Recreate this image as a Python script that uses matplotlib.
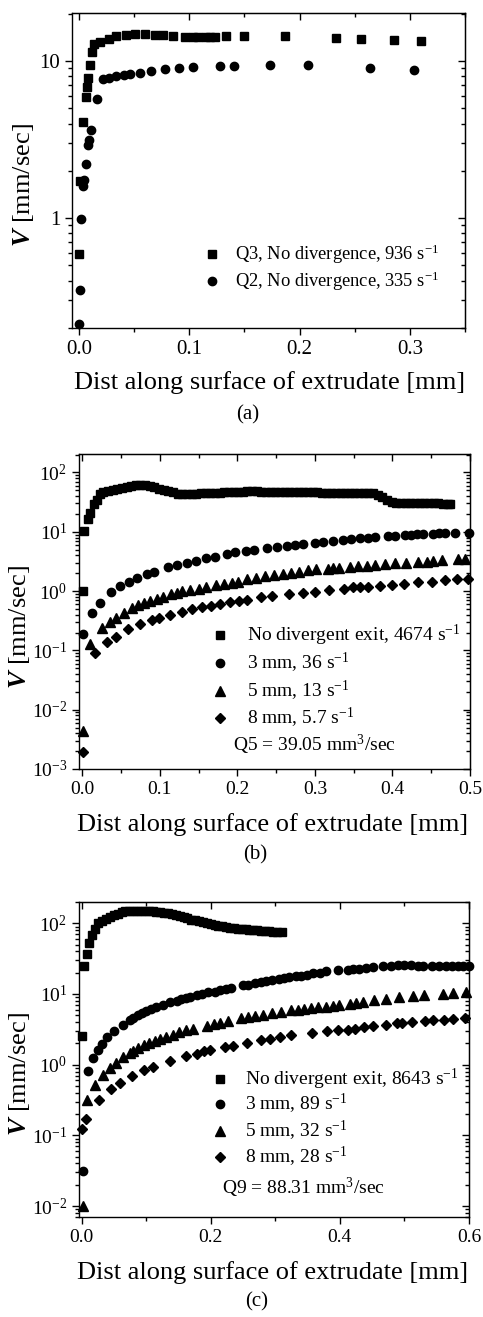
import matplotlib

matplotlib.use("Agg")
import matplotlib.pyplot as plt
from matplotlib.ticker import (FixedLocator, FormatStrFormatter, LogLocator,
                               MultipleLocator, NullFormatter)

plt.rcParams["font.family"] = ["Liberation Serif", "DejaVu Serif"]
plt.rcParams["mathtext.fontset"] = "custom"
plt.rcParams["mathtext.rm"] = "Liberation Serif"
plt.rcParams["mathtext.it"] = "Liberation Serif:italic"
plt.rcParams["mathtext.bf"] = "Liberation Serif:italic:bold"

# ---- (a) no divergence, Q3 and Q2 ----
a_q3_x = [0.0003, 0.001, 0.004, 0.006, 0.007, 0.008, 0.010, 0.012, 0.014, 0.019,
          0.027, 0.034, 0.043, 0.051, 0.060, 0.069, 0.076, 0.085, 0.096, 0.1035,
          0.1075, 0.115, 0.119, 0.123, 0.133, 0.150, 0.187, 0.233, 0.256, 0.286, 0.310]
a_q3_v = [0.59, 1.73, 4.07, 5.93, 6.8, 7.8, 9.45, 11.4, 12.9, 13.3,
          13.9, 14.4, 14.6, 14.8, 14.9, 14.7, 14.6, 14.4, 14.2, 14.2,
          14.2, 14.2, 14.3, 14.3, 14.4, 14.5, 14.5, 14.1, 13.9, 13.7, 13.5]
a_q2_x = [0.0003, 0.001, 0.0015, 0.0035, 0.0045, 0.006, 0.008, 0.009, 0.011, 0.016,
          0.022, 0.0275, 0.034, 0.041, 0.046, 0.055, 0.065, 0.078, 0.091, 0.103,
          0.128, 0.141, 0.173, 0.208, 0.264, 0.304]
a_q2_v = [0.213, 0.35, 0.99, 1.61, 1.75, 2.2, 2.9, 3.15, 3.64, 5.73,
          7.69, 7.8, 8.03, 8.15, 8.27, 8.43, 8.64, 8.85, 9.02, 9.2,
          9.3, 9.34, 9.38, 9.43, 9.07, 8.77]

# ---- (b) Q5 = 39.05 mm^3/sec ----
b_none_x = [0.0013, 0.0026, 0.007, 0.010, 0.015, 0.0186, 0.023,
            0.027, 0.033, 0.039, 0.045, 0.051, 0.057, 0.063, 0.069, 0.075, 0.081,
            0.087, 0.093, 0.099, 0.105, 0.111, 0.117, 0.123, 0.129, 0.135, 0.141,
            0.147, 0.153, 0.159, 0.165, 0.171, 0.177, 0.183, 0.189, 0.195, 0.201,
            0.207, 0.213, 0.219, 0.225, 0.231, 0.237, 0.243, 0.249, 0.255, 0.261,
            0.267, 0.273, 0.279, 0.285, 0.291, 0.297, 0.303, 0.309, 0.315, 0.321,
            0.327, 0.333, 0.339, 0.345, 0.351, 0.357, 0.363, 0.369, 0.375, 0.381,
            0.387, 0.393, 0.399, 0.405, 0.411, 0.417, 0.423, 0.429, 0.435, 0.441,
            0.447, 0.453, 0.459, 0.465, 0.471, 0.474]
b_none_v = [1.0, 10.3, 16.2, 20.9, 28.9, 34.2, 43.0,
            47.0, 49.0, 51.0, 52.5, 54.5, 56.5, 58.5, 60.5, 61.5, 60.5,
            58.5, 56.0, 53.5, 51.0, 48.5, 46.0, 44.0, 43.0, 43.3, 43.6,
            44.0, 44.3, 44.6, 45.0, 45.3, 45.6, 46.0, 46.4, 46.8, 47.2,
            47.6, 48.0, 47.9, 47.8, 47.7, 47.6, 47.4, 47.3, 47.2, 47.0,
            46.9, 46.8, 46.6, 46.5, 46.3, 46.2, 46.0, 45.9, 45.7, 45.6,
            45.4, 45.3, 45.1, 45.0, 44.8, 44.7, 44.6, 44.5, 44.5, 41.5,
            38.0, 34.5, 32.0, 30.8, 30.7, 30.6, 30.5, 30.4, 30.4, 30.3,
            30.2, 30.1, 30.0, 29.9, 29.8, 29.8]
b_3mm_x = [0.0013, 0.012, 0.023, 0.0365, 0.049, 0.060, 0.070, 0.083, 0.092, 0.111,
           0.1225, 0.1345, 0.147, 0.160, 0.171, 0.186, 0.197, 0.211, 0.222, 0.238,
           0.251, 0.2635, 0.274, 0.285, 0.300, 0.311, 0.323, 0.3366, 0.347, 0.358,
           0.369, 0.378, 0.394, 0.403, 0.416, 0.4235, 0.432, 0.439, 0.452, 0.460,
           0.468, 0.481, 0.499]
b_3mm_v = [0.187, 0.42, 0.64, 0.95, 1.23, 1.4, 1.68, 1.93, 2.12, 2.54,
           2.74, 3.0, 3.28, 3.55, 3.83, 4.2, 4.48, 4.71, 4.97, 5.23,
           5.5, 5.87, 6.03, 6.27, 6.51, 6.77, 7.03, 7.31, 7.6, 7.8,
           7.9, 8.2, 8.5, 8.65, 8.87, 8.95, 9.1, 9.2, 9.35, 9.45,
           9.5, 9.6, 9.65]
b_5mm_x = [0.0013, 0.010, 0.025, 0.0357, 0.043, 0.054, 0.064, 0.072, 0.079, 0.087,
           0.096, 0.1045, 0.114, 0.1217, 0.129, 0.139, 0.150, 0.1595, 0.173, 0.183,
           0.1926, 0.201, 0.213, 0.224, 0.2356, 0.247, 0.259, 0.2687, 0.2795, 0.2915,
           0.301, 0.317, 0.3237, 0.3315, 0.345, 0.356, 0.3667, 0.3775, 0.390, 0.403,
           0.418, 0.433, 0.444, 0.4527, 0.4634, 0.485, 0.4935]
b_5mm_v = [0.0044, 0.128, 0.235, 0.297, 0.356, 0.43, 0.51, 0.574, 0.62, 0.687,
           0.743, 0.80, 0.88, 0.94, 0.99, 1.04, 1.09, 1.17, 1.25, 1.31,
           1.38, 1.45, 1.57, 1.68, 1.77, 1.86, 1.96, 2.04, 2.09, 2.26,
           2.35, 2.38, 2.44, 2.47, 2.57, 2.64, 2.67, 2.74, 2.81, 2.92,
           3.0, 3.08, 3.1, 3.2, 3.33, 3.41, 3.46]
b_8mm_x = [0.0013, 0.0163, 0.032, 0.043, 0.059, 0.0744, 0.0894, 0.099, 0.113, 0.129,
           0.142, 0.154, 0.1655, 0.1776, 0.191, 0.2025, 0.2128, 0.231, 0.244, 0.266,
           0.285, 0.300, 0.3186, 0.3375, 0.3495, 0.358, 0.369, 0.384, 0.400, 0.415,
           0.433, 0.4505, 0.4677, 0.4828, 0.497]
b_8mm_v = [0.00192, 0.089, 0.137, 0.166, 0.229, 0.275, 0.325, 0.347, 0.394, 0.449,
           0.498, 0.531, 0.566, 0.604, 0.644, 0.688, 0.715, 0.782, 0.824, 0.879,
           0.925, 0.975, 1.03, 1.09, 1.15, 1.17, 1.18, 1.23, 1.29, 1.33,
           1.40, 1.45, 1.53, 1.57, 1.63]

# ---- (c) Q9 = 88.31 mm^3/sec ----
c_none_x = [0.001, 0.0036, 0.0077, 0.0118, 0.0165, 0.0206,
            0.026, 0.032, 0.038, 0.044, 0.050, 0.056, 0.062, 0.068, 0.074, 0.080,
            0.086, 0.092, 0.098, 0.104, 0.110, 0.116, 0.122, 0.128, 0.134, 0.140,
            0.146, 0.152, 0.158, 0.164, 0.170, 0.176, 0.182, 0.188, 0.194, 0.200,
            0.206, 0.212, 0.218, 0.224, 0.230, 0.236, 0.242, 0.248, 0.254, 0.260,
            0.266, 0.272, 0.278, 0.284, 0.290, 0.296, 0.302, 0.310]
c_none_v = [2.51, 24.7, 37.0, 52.0, 67.7, 83.0,
            100, 106, 114, 122, 130, 137, 143, 149, 151, 151,
            151, 151, 150, 149, 148, 146, 144, 142, 138, 134,
            129, 125, 121, 117, 113, 110, 107, 105, 102, 99,
            96, 93, 91, 89, 87, 85, 83.5, 82.5, 81.8, 81.0,
            80.2, 79.3, 78.5, 77.8, 77.0, 76.3, 75.5, 74.6]
c_3mm_x = [0.0015, 0.0095, 0.018, 0.0247, 0.031, 0.0397, 0.050, 0.0634, 0.0747, 0.080,
           0.0876, 0.094, 0.1005, 0.108, 0.116, 0.126, 0.1376, 0.147, 0.1546, 0.161,
           0.1686, 0.178, 0.187, 0.196, 0.206, 0.214, 0.224, 0.232, 0.250, 0.258,
           0.268, 0.278, 0.286, 0.295, 0.306, 0.314, 0.322, 0.3325, 0.340, 0.349,
           0.358, 0.3686, 0.379, 0.397, 0.412, 0.420, 0.430, 0.441, 0.452, 0.4665,
           0.479, 0.4897, 0.500, 0.510, 0.5206, 0.529, 0.543, 0.554, 0.5644, 0.5737,
           0.5825, 0.591, 0.5995]
c_3mm_v = [0.031, 0.82, 1.23, 1.59, 1.98, 2.46, 2.99, 3.59, 4.23, 4.56,
           4.97, 5.36, 5.66, 6.17, 6.52, 7.03, 7.59, 8.01, 8.46, 8.73,
           9.12, 9.53, 10.05, 10.5, 10.8, 11.3, 11.7, 12.1, 13.2, 13.6,
           14.1, 14.7, 15.2, 15.7, 16.2, 16.7, 17.3, 17.9, 18.2, 18.8,
           19.5, 20.1, 20.8, 21.5, 21.9, 22.4, 22.9, 23.4, 23.7, 24.5,
           24.7, 25.3, 25.3, 25.3, 25.0, 25.0, 25.0, 24.7, 24.7, 24.7,
           24.5, 24.5, 24.5]
c_5mm_x = [0.0015, 0.0088, 0.0206, 0.0335, 0.0438, 0.053, 0.0644, 0.0747, 0.080, 0.0876,
           0.0964, 0.1046, 0.1134, 0.122, 0.1314, 0.1418, 0.151, 0.162, 0.1727, 0.194,
           0.2046, 0.214, 0.2268, 0.2474, 0.2577, 0.268, 0.281, 0.2954, 0.309, 0.3247,
           0.335, 0.345, 0.3557, 0.366, 0.379, 0.389, 0.398, 0.415, 0.425, 0.4356,
           0.4536, 0.4716, 0.492, 0.513, 0.531, 0.559, 0.5747, 0.595]
c_5mm_v = [0.0099, 0.313, 0.51, 0.71, 0.91, 1.06, 1.29, 1.48, 1.56, 1.72,
           1.88, 2.02, 2.16, 2.30, 2.46, 2.65, 2.86, 3.05, 3.22, 3.52,
           3.71, 3.88, 4.09, 4.56, 4.71, 4.81, 5.02, 5.36, 5.48, 5.85,
           5.98, 6.1, 6.31, 6.45, 6.59, 6.81, 6.96, 7.26, 7.43, 7.67,
           8.09, 8.55, 8.93, 9.22, 9.63, 9.94, 10.3, 10.6]
c_8mm_x = [0.001, 0.0065, 0.0263, 0.0457, 0.0588, 0.0782, 0.0967, 0.110, 0.1366, 0.1624,
           0.178, 0.189, 0.1995, 0.2227, 0.2345, 0.256, 0.278, 0.292, 0.3067, 0.3247,
           0.357, 0.380, 0.397, 0.412, 0.424, 0.438, 0.452, 0.4716, 0.488, 0.497,
           0.512, 0.532, 0.544, 0.562, 0.5747, 0.594]
c_8mm_v = [0.125, 0.172, 0.313, 0.457, 0.556, 0.695, 0.83, 0.94, 1.13, 1.33,
           1.43, 1.56, 1.59, 1.78, 1.84, 2.02, 2.21, 2.33, 2.46, 2.6,
           2.8, 2.96, 3.05, 3.12, 3.19, 3.37, 3.51, 3.67, 3.83, 3.88,
           3.96, 4.13, 4.27, 4.32, 4.41, 4.56]

FIG_W, FIG_H = 483, 1317
XLABEL = "Dist along surface of extrudate [mm]"
YLABEL = r"$\mathbf{V}$ [mm/sec]"
MS = {"s": 5.6, "o": 6.0, "^": 6.6, "D": 5.0}
LABEL_SIZE = 19
KEY_SIZE = 14


def px_axes(fig, left, top, right, bottom):
    # axes placed by pixel edges
    return fig.add_axes([left / FIG_W, 1 - bottom / FIG_H,
                         (right - left) / FIG_W, (bottom - top) / FIG_H])


def fig_text(fig, x, y, s, **kw):
    fig.text(x / FIG_W, 1 - y / FIG_H, s, **kw)


def series(ax, x, v, marker):
    ax.plot(x, v, linestyle="none", marker=marker, ms=MS[marker],
            color="black", mec="black", clip_on=False, zorder=3)


def key(ax, x, y, marker, label, text_x, size=KEY_SIZE):
    ax.plot([x], [y], linestyle="none", marker=marker, ms=MS[marker], color="black",
            transform=ax.transAxes, clip_on=False)
    ax.text(text_x, y, label, transform=ax.transAxes, ha="left", va="center",
            fontsize=size)


def frame(ax, xlim, ylim, xmajor, xminor, ticksize=14):
    ax.set_yscale("log")
    ax.set_xlim(*xlim)
    ax.set_ylim(*ylim)
    ax.xaxis.set_major_locator(MultipleLocator(xmajor))
    ax.xaxis.set_minor_locator(MultipleLocator(xminor))
    ax.xaxis.set_major_formatter(FormatStrFormatter("%.1f"))
    ax.yaxis.set_major_locator(LogLocator(base=10, numticks=20))
    ax.yaxis.set_minor_locator(LogLocator(base=10, subs=range(2, 10), numticks=20))
    ax.yaxis.set_minor_formatter(NullFormatter())
    for s in ax.spines.values():
        s.set_linewidth(1.0)
    ax.tick_params(which="both", direction="out", width=1.0, labelsize=ticksize,
                   top=False, right=False)
    ax.tick_params(which="major", length=5)
    ax.tick_params(which="minor", length=3)

    # mirrored ticks on the opposite sides point inward
    top = ax.secondary_xaxis("top")
    top.xaxis.set_major_locator(MultipleLocator(xmajor))
    top.xaxis.set_minor_locator(MultipleLocator(xminor))
    right = ax.secondary_yaxis("right")
    right.yaxis.set_major_locator(LogLocator(base=10, numticks=20))
    right.yaxis.set_minor_locator(LogLocator(base=10, subs=range(2, 10), numticks=20))
    for sec in (top, right):
        sec.tick_params(which="both", direction="in", width=1.0,
                        labeltop=False, labelright=False)
        sec.tick_params(which="major", length=5)
        sec.tick_params(which="minor", length=3)


fig = plt.figure(figsize=(FIG_W / 100, FIG_H / 100), dpi=100)

# panel (a)
ax = px_axes(fig, 72, 13, 465, 328)
series(ax, a_q3_x, a_q3_v, "s")
series(ax, a_q2_x, a_q2_v, "o")
frame(ax, (-0.0063, 0.35), (0.2, 20.2), 0.1, 0.05, ticksize=15)
ax.yaxis.set_major_locator(FixedLocator([1, 10]))
ax.yaxis.set_major_formatter(FormatStrFormatter("%g"))
key(ax, 0.356, 0.235, "s", r"Q3, No divergence, 936 s$^{-1}$", 0.415, size=13.3)
key(ax, 0.356, 0.149, "o", r"Q2, No divergence, 335 s$^{-1}$", 0.415, size=13.3)
fig_text(fig, 23, 185, YLABEL, rotation=90, ha="center", va="center", fontsize=LABEL_SIZE)
fig_text(fig, 270, 383, XLABEL, ha="center", va="center", fontsize=LABEL_SIZE)
fig_text(fig, 248, 415, "(a)", ha="center", va="center", fontsize=15)

# panel (b)
ax = px_axes(fig, 79, 454, 470, 769)
series(ax, b_none_x, b_none_v, "s")
series(ax, b_3mm_x, b_3mm_v, "o")
series(ax, b_5mm_x, b_5mm_v, "^")
series(ax, b_8mm_x, b_8mm_v, "D")
frame(ax, (-0.0043, 0.5), (1e-3, 205), 0.1, 0.05)
key(ax, 0.361, 0.425, "s", r"No divergent exit, 4674 s$^{-1}$", 0.430)
key(ax, 0.361, 0.336, "o", r"3 mm, 36 s$^{-1}$", 0.430)
key(ax, 0.361, 0.249, "^", r"5 mm, 13 s$^{-1}$", 0.430)
key(ax, 0.361, 0.161, "D", r"8 mm, 5.7 s$^{-1}$", 0.430)
ax.text(0.394, 0.076, r"Q5 = 39.05 mm$^{3}$/sec", transform=ax.transAxes,
        ha="left", va="center", fontsize=KEY_SIZE)
fig_text(fig, 20, 627, YLABEL, rotation=90, ha="center", va="center", fontsize=LABEL_SIZE)
fig_text(fig, 273, 825, XLABEL, ha="center", va="center", fontsize=LABEL_SIZE)
fig_text(fig, 255, 855, "(b)", ha="center", va="center", fontsize=15)

# panel (c)
ax = px_axes(fig, 79, 902, 469, 1217)
series(ax, c_none_x, c_none_v, "s")
series(ax, c_3mm_x, c_3mm_v, "o")
series(ax, c_5mm_x, c_5mm_v, "^")
series(ax, c_8mm_x, c_8mm_v, "D")
frame(ax, (-0.004, 0.6), (0.007, 200), 0.2, 0.1)
key(ax, 0.3615, 0.438, "s", r"No divergent exit, 8643 s$^{-1}$", 0.426)
key(ax, 0.3615, 0.359, "o", r"3 mm, 89 s$^{-1}$", 0.426)
key(ax, 0.3615, 0.274, "^", r"5 mm, 32 s$^{-1}$", 0.426)
key(ax, 0.3615, 0.190, "D", r"8 mm, 28 s$^{-1}$", 0.426)
ax.text(0.367, 0.092, r"Q9 = 88.31 mm$^{3}$/sec", transform=ax.transAxes,
        ha="left", va="center", fontsize=KEY_SIZE)
fig_text(fig, 20, 1074, YLABEL, rotation=90, ha="center", va="center", fontsize=LABEL_SIZE)
fig_text(fig, 273, 1273, XLABEL, ha="center", va="center", fontsize=LABEL_SIZE)
fig_text(fig, 257, 1302, "(c)", ha="center", va="center", fontsize=15)

fig.savefig("out.png", dpi=100)
plt.close(fig)
